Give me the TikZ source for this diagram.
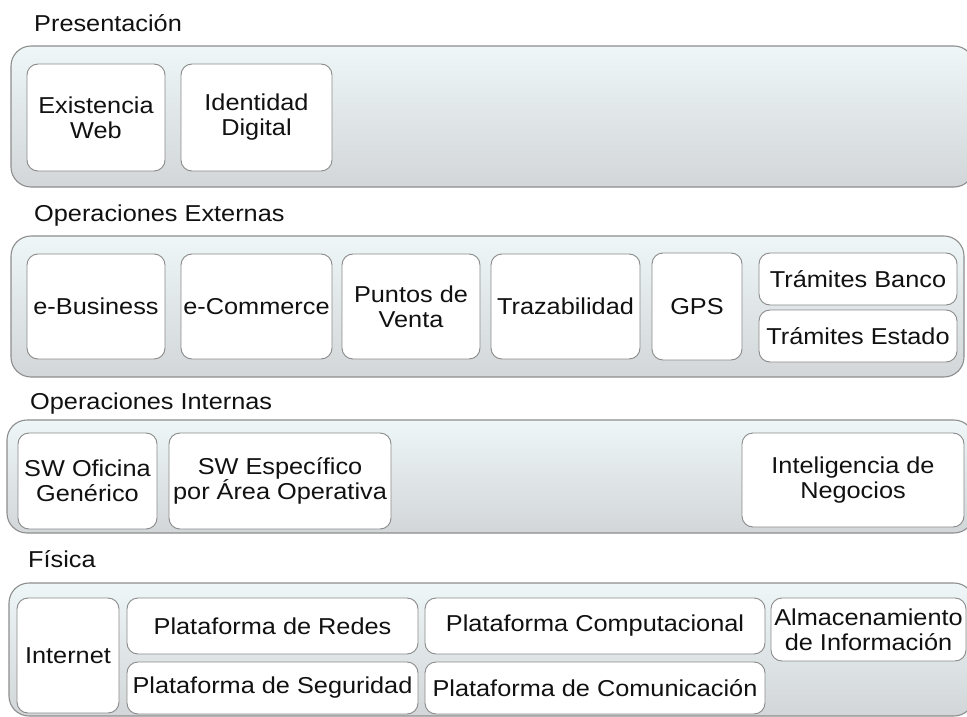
\documentclass[tikz,border=0pt]{standalone}
\usepackage{fontspec}
\setmainfont{Liberation Sans}[FakeStretch=1.1]
\definecolor{bandtop}{HTML}{EEF6F7}
\definecolor{bandbot}{HTML}{D2D6D8}
\definecolor{bandline}{HTML}{8E8E8E}
\definecolor{boxline}{HTML}{8A8A8A}
\definecolor{txt}{HTML}{111111}
\tikzset{
  band/.style={draw=bandline, line width=1.1pt, rounded corners=20pt, top color=bandtop, bottom color=bandbot},
  box/.style={draw=boxline, line width=0.9pt, fill=white, rounded corners=11pt, align=center,
    inner sep=0pt, text=txt, font=\fontsize{23}{25}\selectfont},
  lbl/.style={anchor=base west, inner sep=0pt, text=txt, font=\fontsize{23}{25}\selectfont}
}
\newcommand{\bx}[6]{%
  \pgfmathsetmacro{\bxw}{#4-#2}\pgfmathsetmacro{\bxh}{#5-#3}%
  \pgfmathsetmacro{\bxcx}{(#2+#4)/2}\pgfmathsetmacro{\bxcy}{(#3+#5)/2+1}%
  \node[box, minimum width=\bxw pt, minimum height=\bxh pt] (#1) at (\bxcx,\bxcy) {#6};}
\begin{document}
\begin{tikzpicture}[x=1pt,y=-1pt]
\useasboundingbox (0,0) rectangle (967,717);
\clip (0,0) rectangle (967,717);
\fill[white] (0,0) rectangle (967,717);
% labels
\node[lbl] (l1) at (34,32) {Presentación};
\node[lbl] (l2) at (34,221) {Operaciones Externas};
\node[lbl] (l3) at (30,409) {Operaciones Internas};
\node[lbl] (l4) at (28,567) {Física};
% bands
\draw[band] (11,46) rectangle (974,187);
\draw[band] (11,236) rectangle (964,377);
\draw[band] (7,420) rectangle (974,533);
\draw[band] (9,583) rectangle (974,716);
% band 1
\bx{ew}{27}{63}{165}{170}{Existencia\\Web}
\bx{idd}{181}{63}{332}{170}{Identidad\\Digital}
% band 2
\bx{eb}{27}{253}{165}{358}{e-Business}
\bx{ec}{181}{253}{332}{358}{e-Commerce}
\bx{pv}{342}{253}{480}{358}{Puntos de\\Venta}
\bx{tz}{491}{253}{640}{358}{Trazabilidad}
\bx{gps}{652}{252}{742}{359}{GPS}
\bx{tb}{759}{252}{957}{304}{Trámites Banco}
\bx{te}{759}{309}{957}{361}{Trámites Estado}
% band 3
\bx{swo}{18}{432}{157}{528}{SW Oficina\\Genérico}
\bx{swe}{169}{432}{391}{528}{SW Específico\\por Área Operativa}
\bx{ind}{742}{432}{964}{526}{Inteligencia de\\Negocios}
% band 4
\bx{inet}{17}{597}{119}{712}{Internet}
\bx{red}{127}{597}{418}{653}{Plataforma de Redes}
\bx{seg}{127}{661}{418}{713}{Plataforma de Seguridad}
\bx{comp}{425}{597}{765}{653}{Plataforma Computacional}
\bx{comu}{425}{661}{765}{713}{Plataforma de Comunicación}
\bx{alm}{771}{597}{966}{660}{Almacenamiento\\de Información}
\end{tikzpicture}
\end{document}
